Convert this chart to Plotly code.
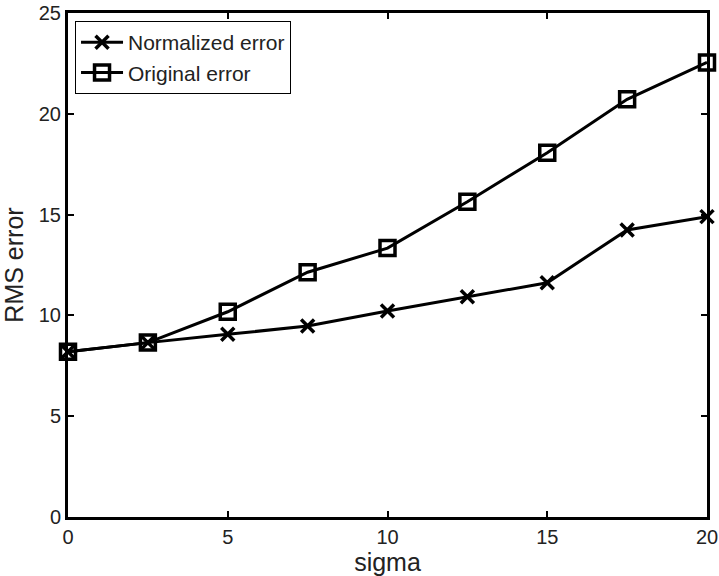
import plotly.graph_objects as go

sigma = [0, 2.5, 5, 7.5, 10, 12.5, 15, 17.5, 20]
normalized_error = [8.2, 8.65, 9.06, 9.47, 10.22, 10.93, 11.62, 14.24, 14.9]
original_error = [8.2, 8.65, 10.18, 12.14, 13.34, 15.64, 18.07, 20.72, 22.55]
x_ticks = [0, 5, 10, 15, 20]
y_ticks = [0, 5, 10, 15, 20, 25]

fig = go.Figure()
fig.add_trace(go.Scatter(
    x=sigma, y=normalized_error, name="Normalized error", mode="lines+markers",
    line=dict(color="black", width=3),
    marker=dict(symbol="x-thin", size=13, color="black", line=dict(color="black", width=3.5)),
    cliponaxis=False,
))
fig.add_trace(go.Scatter(
    x=sigma, y=original_error, name="Original error", mode="lines+markers",
    line=dict(color="black", width=3),
    marker=dict(symbol="square-open", size=15, color="black", line=dict(color="black", width=3.5)),
    cliponaxis=False,
))

axis_common = dict(
    showline=True, linecolor="black", linewidth=3, mirror="ticks",
    ticks="inside", ticklen=6, tickwidth=1.5, tickcolor="black",
    showgrid=False, zeroline=False, automargin=False,
    ticklabeloverflow="allow",
    tickfont=dict(family="Liberation Sans, Arial, sans-serif", size=20, color="#222"),
)

fig.update_layout(
    width=719, height=576,
    margin=dict(l=68, r=12, t=13, b=59, autoexpand=False),
    paper_bgcolor="white", plot_bgcolor="white",
    font=dict(family="Liberation Sans, Arial, sans-serif", color="#222"),
    xaxis=dict(range=[0, 20], tickvals=x_ticks,
               title=dict(text="sigma", font=dict(size=25), standoff=4), **axis_common),
    yaxis=dict(range=[0, 25], tickvals=y_ticks,
               title=dict(text="RMS error", font=dict(size=25), standoff=10), **axis_common),
    legend=dict(x=0.011, y=0.984, xanchor="left", yanchor="top",
                bgcolor="white", bordercolor="black", borderwidth=1,
                font=dict(size=21, color="#222"), tracegroupgap=0, itemwidth=42),
    showlegend=True,
)

fig.write_html("out.html", config={"displayModeBar": False},
               post_script="document.body.style.margin='0';")
